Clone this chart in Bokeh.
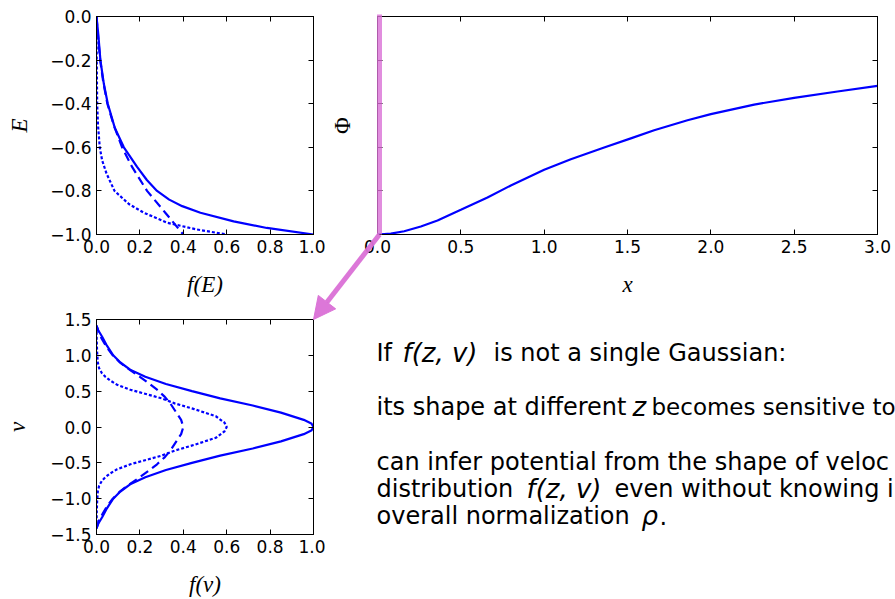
from bokeh.plotting import figure
from bokeh.models import (Range1d, LinearAxis, FixedTicker, CustomJSTickFormatter,
                          Arrow, NormalHead, GridBox)
from bokeh.core.properties import value
from bokeh.embed import file_html
from bokeh.resources import INLINE

# ---------------- data ----------------
# f(E) panel
FE_SOLID_E = [0.0, -0.08, -0.2, -0.31, -0.4, -0.51, -0.6, -0.69, -0.75, -0.8, -0.84, -0.87, -0.9, -0.94, -0.97, -1.0]
FE_SOLID_F = [0.0, 0.008, 0.018, 0.034, 0.052, 0.084, 0.126, 0.187, 0.232, 0.279, 0.335, 0.395, 0.479, 0.632,
              0.785, 1.0]
FE_DASH_E = [0.0, -0.1, -0.2, -0.3, -0.4, -0.5, -0.6, -0.69, -0.8, -0.9, -1.0]
FE_DASH_F = [0.0, 0.008, 0.017, 0.031, 0.05, 0.08, 0.118, 0.164, 0.233, 0.317, 0.40]
FE_DOT_E = [0.0, -0.2, -0.4, -0.5, -0.6, -0.66, -0.72, -0.8, -0.86, -0.9, -0.946, -0.977, -1.0]
FE_DOT_F = [0.0, 0.001, 0.003, 0.007, 0.015, 0.026, 0.046, 0.083, 0.149, 0.218, 0.325, 0.463, 0.60]

# f(v) panel
FV_SOLID_V = [-1.414, -1.35, -1.26, -1.15, -1.0, -0.9, -0.8, -0.7, -0.6, -0.5, -0.4, -0.3, -0.2, -0.1, -0.05, 0.0,
              0.05, 0.1, 0.2, 0.3, 0.4, 0.5, 0.6, 0.7, 0.8, 0.9, 1.0, 1.15, 1.26, 1.35, 1.414]
FV_SOLID_F = [0.0, 0.008, 0.026, 0.045, 0.077, 0.11, 0.155, 0.225, 0.32, 0.44, 0.57, 0.72, 0.85, 0.955, 0.99, 1.0,
              0.99, 0.955, 0.85, 0.72, 0.57, 0.44, 0.32, 0.225, 0.155, 0.11, 0.077, 0.045, 0.026, 0.008, 0.0]
FV_DASH_V = [-1.414, -1.3, -1.2, -1.1, -1.0, -0.9, -0.84, -0.7, -0.6, -0.52, -0.42, -0.33, -0.2, -0.1, 0.0,
             0.1, 0.2, 0.33, 0.42, 0.52, 0.6, 0.7, 0.84, 0.9, 1.0, 1.1, 1.2, 1.3, 1.414]
FV_DASH_F = [0.0, 0.012, 0.03, 0.05, 0.075, 0.108, 0.133, 0.20, 0.245, 0.279, 0.315, 0.34, 0.368, 0.39, 0.40,
             0.39, 0.368, 0.34, 0.315, 0.279, 0.245, 0.20, 0.133, 0.108, 0.075, 0.05, 0.03, 0.012, 0.0]
FV_DOT_V = [-1.414, -1.2, -1.03, -0.9, -0.82, -0.75, -0.7, -0.65, -0.59, -0.52, -0.45, -0.4, -0.33, -0.25, -0.15,
            -0.06, 0.0, 0.06, 0.15, 0.25, 0.33, 0.4, 0.45, 0.52, 0.59, 0.65, 0.7, 0.75, 0.82, 0.9, 1.03, 1.2, 1.414]
FV_DOT_F = [0.0, 0.001, 0.003, 0.006, 0.012, 0.025, 0.041, 0.062, 0.095, 0.156, 0.24, 0.30, 0.36, 0.45, 0.55,
            0.59, 0.60, 0.59, 0.55, 0.45, 0.36, 0.30, 0.24, 0.156, 0.095, 0.062, 0.041, 0.025, 0.012, 0.006,
            0.003, 0.001, 0.0]

# Phi(x) panel
PHI_X = [0.0, 0.08, 0.16, 0.26, 0.36, 0.5, 0.66, 0.8, 1.0, 1.16, 1.36, 1.52, 1.66, 1.86, 2.0, 2.26, 2.5, 2.76, 3.0]
PHI_Y = [0.0, 0.004, 0.015, 0.037, 0.064, 0.113, 0.170, 0.225, 0.297, 0.345, 0.399, 0.441, 0.478, 0.524, 0.552,
         0.596, 0.627, 0.656, 0.682]

# ticks
F_TICKS = [0.0, 0.2, 0.4, 0.6, 0.8, 1.0]
E_TICKS = [-1.0, -0.8, -0.6, -0.4, -0.2, 0.0]
V_TICKS = [-1.5, -1.0, -0.5, 0.0, 0.5, 1.0, 1.5]
X_TICKS = [0.0, 0.5, 1.0, 1.5, 2.0, 2.5, 3.0]
PHI_TICKS = [0.0, 0.2, 0.4, 0.6, 0.8, 1.0]

# axis labels
E_XLABEL, E_YLABEL = "f(E)", "E"
V_XLABEL, V_YLABEL = "f(v)", "v"
PHI_XLABEL, PHI_YLABEL = "x", "\u03a6"

# slide text (as visible in the reference): plain pieces, math (italic) pieces, and the line-2 tail
TEXT_PLAIN = ["If", "is not a single Gaussian:", "its shape at different",
              "can infer potential from the shape of veloc", "distribution", "even without knowing i",
              "overall normalization", "."]
TEXT_MATH = ["f(z, v)", "z", "f(z, v)", "\u03c1"]
TEXT_TAIL = ["becomes sensitive to"]

# ---------------- layout (page pixels; the page origin is the top-left corner) ----------------
W_LEFT, W_RIGHT = 325, 570
H_TOP, H_BOT = 300, 299
E_BORDERS = (96, 12, 16, 66)      # left, right, top, bottom
PHI_BORDERS = (52, 18, 16, 66)
V_BORDERS = (96, 12, 19, 64)
TEXT_PLAIN_POS = [(376, 352), (493, 352), (376, 406), (376, 461), (376, 488), (614, 488),
                  (376, 515), (659, 515)]
TEXT_MATH_POS = [(402, 352), (632, 406), (526, 488), (641, 515)]
TEXT_TAIL_POS = [(651, 406)]

BLUE = "#0000ff"
PINK = "#da70d6"
TICK_FONT = "DejaVu Sans"
LABEL_FONT = "Liberation Serif"
TEXT_FONT = "DejaVu Sans"

num_fmt = CustomJSTickFormatter(code="return tick.toFixed(1).replace('-', '\u2212');")
blank_fmt = CustomJSTickFormatter(code="return '';")


def panel(width, height, xr, yr, borders):
    l, r, t, b = borders
    p = figure(width=width, height=height, x_range=Range1d(*xr), y_range=Range1d(*yr),
               x_axis_location=None, y_axis_location=None, output_backend="svg",
               toolbar_location=None, min_border_left=l, min_border_right=r,
               min_border_top=t, min_border_bottom=b, background_fill_color="white",
               border_fill_color="white", outline_line_color="black", outline_line_width=1)
    p.grid.visible = False
    return p


def add_axis(p, loc, ticks, show_labels, label=None, italic=True, standoff=10):
    ax = LinearAxis(ticker=FixedTicker(ticks=ticks, minor_ticks=[]),
                    formatter=num_fmt if show_labels else blank_fmt)
    ax.major_tick_in = 5
    ax.major_tick_out = 0
    ax.minor_tick_in = 0
    ax.minor_tick_out = 0
    ax.axis_line_color = "black"
    ax.major_tick_line_color = "black"
    ax.major_label_text_font = TICK_FONT
    ax.major_label_text_font_size = "17px"
    ax.major_label_text_color = "black"
    ax.major_label_standoff = 5 if show_labels else 0
    if label is not None:
        ax.axis_label = label
        ax.axis_label_text_font = LABEL_FONT
        ax.axis_label_text_font_style = "italic" if italic else "normal"
        ax.axis_label_text_font_size = "23px"
        ax.axis_label_text_color = "black"
        ax.axis_label_standoff = standoff
    p.add_layout(ax, loc)


# f(E) panel
pE = panel(W_LEFT, H_TOP, (0, 1), (-1, 0), E_BORDERS)
add_axis(pE, "below", F_TICKS, True, E_XLABEL, standoff=16)
add_axis(pE, "left", E_TICKS, True, E_YLABEL, standoff=15)
add_axis(pE, "above", F_TICKS, False)
add_axis(pE, "right", E_TICKS, False)
pE.line(FE_SOLID_F, FE_SOLID_E, line_color=BLUE, line_width=2.2)
pE.line(FE_DASH_F, FE_DASH_E, line_color=BLUE, line_width=2.2, line_dash="9 5")
pE.line(FE_DOT_F, FE_DOT_E, line_color=BLUE, line_width=2.2, line_dash="3 2")

# Phi panel
pP = panel(W_RIGHT, H_TOP, (0, 3), (0, 1), PHI_BORDERS)
add_axis(pP, "below", X_TICKS, True, PHI_XLABEL, standoff=16)
add_axis(pP, "left", PHI_TICKS, False, PHI_YLABEL, italic=False, standoff=23)
add_axis(pP, "above", X_TICKS, False)
add_axis(pP, "right", PHI_TICKS, False)
pP.line(PHI_X, PHI_Y, line_color=BLUE, line_width=2.2)

# f(v) panel
pV = panel(W_LEFT, H_BOT, (0, 1), (-1.5, 1.5), V_BORDERS)
add_axis(pV, "below", F_TICKS, True, V_XLABEL, standoff=16)
add_axis(pV, "left", V_TICKS, True, V_YLABEL, standoff=17)
add_axis(pV, "above", F_TICKS, False)
add_axis(pV, "right", V_TICKS, False)
pV.line(FV_SOLID_F, FV_SOLID_V, line_color=BLUE, line_width=2.2)
pV.line(FV_DASH_F, FV_DASH_V, line_color=BLUE, line_width=2.2, line_dash="9 5")
pV.line(FV_DOT_F, FV_DOT_V, line_color=BLUE, line_width=2.2, line_dash="3 2")

# transparent overlay over the whole page (page-pixel coordinates) for the arrow and the slide text
W_ALL, H_ALL = W_LEFT + W_RIGHT, H_TOP + H_BOT
ov = figure(width=W_ALL, height=H_ALL, x_range=Range1d(0, W_ALL), y_range=Range1d(H_ALL, 0),
            x_axis_location=None, y_axis_location=None, min_border=0, outline_line_color=None,
            background_fill_color=None, border_fill_color=None, output_backend="svg",
            toolbar_location=None)
ov.grid.visible = False

# frame corners (page pixels) derived from the layout
phi_left = W_LEFT + PHI_BORDERS[0]
phi_top = PHI_BORDERS[2]
phi_bottom = H_TOP - PHI_BORDERS[3]
v_right = W_LEFT - V_BORDERS[1]
v_top = H_TOP + V_BORDERS[2]

bar_x = phi_left + 2
ov.add_layout(Arrow(x_start=bar_x, y_start=phi_top - 2, x_end=bar_x, y_end=phi_bottom, end=None,
                    line_color=PINK, line_alpha=0.8, line_width=5))
ov.add_layout(Arrow(x_start=bar_x, y_start=phi_bottom, x_end=v_right, y_end=v_top,
                    end=NormalHead(size=22, fill_color=PINK, line_color=PINK, fill_alpha=0.95, line_alpha=0.95),
                    line_color=PINK, line_alpha=0.95, line_width=5))


def put_text(texts, pos, size, style="normal"):
    ov.text(x=[p[0] for p in pos], y=[p[1] for p in pos], text=texts,
            text_font=value(TEXT_FONT), text_font_size=size, text_font_style=style,
            text_baseline="alphabetic", text_align="left", text_color="black")


put_text(TEXT_PLAIN, TEXT_PLAIN_POS, "24px")
put_text(TEXT_MATH, TEXT_MATH_POS, "26px", "italic")
put_text(TEXT_TAIL, TEXT_TAIL_POS, "23px")

# empty outer tracks (0 and 3) keep the overlay's frame from being aligned with the panels
grid = GridBox(children=[(pE, 1, 1), (pP, 1, 2), (pV, 2, 1), (ov, 0, 0, 4, 4)], spacing=0)

with open("out.html", "w") as f:
    f.write(file_html(grid, INLINE))
